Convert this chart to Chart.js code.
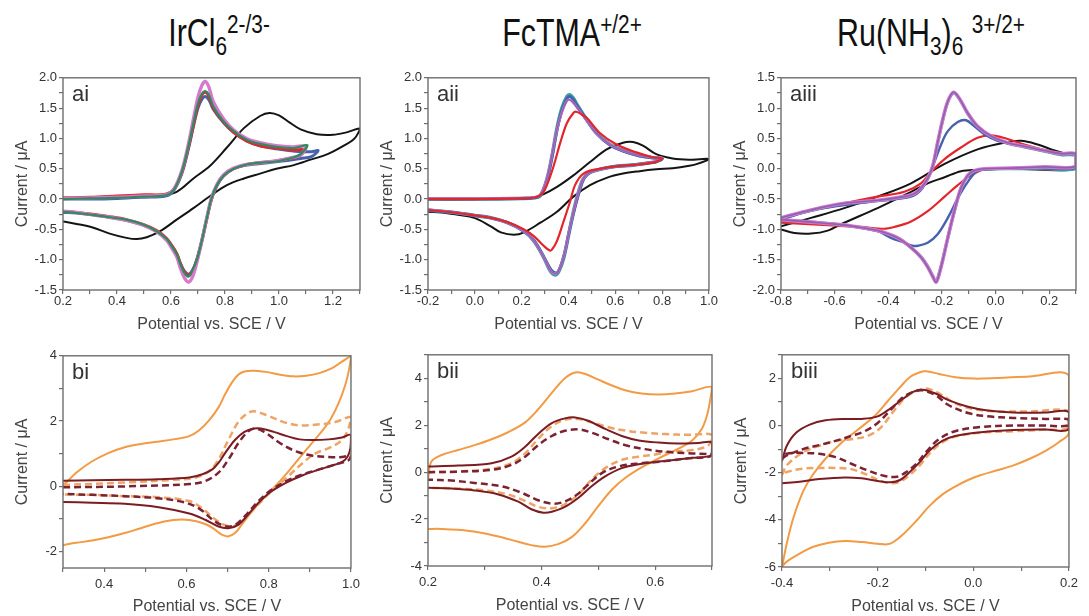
<!DOCTYPE html>
<html>
<head>
<meta charset="utf-8">
<script src="https://cdn.jsdelivr.net/npm/chart.js@4.4.0/dist/chart.umd.min.js"></script>
<style>
  html, body { margin: 0; padding: 0; background: #fff; }
  body { width: 1089px; height: 616px; position: relative; overflow: hidden; }
  canvas { position: absolute; }
  .ttl { position: absolute; top: 14px; white-space: nowrap; transform: translateX(-50%) scaleX(0.8);
         font-family: "Liberation Sans", Arial, sans-serif;
         font-size: 38px; line-height: 38px; color: #111; }
  .ttl .sb, .ttl .sp { font-size: 26px; position: relative; }
  .ttl .sb { top: 9px; }
  .ttl .sp { top: -13px; }
</style>
</head>
<body>
<div class="ttl" style="left:219px">IrCl<span class="sb">6</span><span class="sp">2-/3-</span></div>
<div class="ttl" style="left:572px">FcTMA<span class="sp">+/2+</span></div>
<div class="ttl" style="left:931px">Ru(NH<span class="sb">3</span>)<span class="sb">6</span> <span class="sp">3+/2+</span></div>
<script>
// axis ranges [min, max]
const aiX = [0.2, 1.3],  aiY = [-1.5, 2.0];
const aiiX = [-0.2, 1.0], aiiY = [-1.5, 2.0];
const aiiiX = [-0.8, 0.3], aiiiY = [-2.0, 1.5];
const biX = [0.3, 1.0],  biY = [-2.5, 4];
const biiX = [0.2, 0.7], biiY = [-4, 5];
const biiiX = [-0.4, 0.2], biiiY = [-6, 3];

// ---- ai : IrCl6 ----  [potential V, current uA]
const aiBlack = [[0.2,0.0],[0.35,0.02],[0.5,0.04],[0.56,0.06],[0.621,0.12],[0.683,0.34],[0.745,0.55],[0.807,0.85],[0.87,1.17],[0.93,1.37],[0.965,1.42],[1.0,1.38],[1.04,1.26],[1.08,1.15],[1.14,1.07],[1.2,1.06],[1.25,1.1],[1.3,1.16],
  [1.28,1.0],[1.24,0.88],[1.18,0.74],[1.117,0.65],[1.055,0.56],[0.99,0.5],[0.93,0.42],[0.87,0.34],[0.807,0.23],[0.745,0.05],[0.683,-0.15],[0.621,-0.34],[0.56,-0.53],[0.51,-0.63],[0.473,-0.66],[0.435,-0.64],[0.373,-0.57],[0.31,-0.47],[0.25,-0.41],[0.2,-0.37]];
const aiBlue = [[0.2,0.0],[0.3,0.0],[0.4,0.01],[0.5,0.03],[0.58,0.05],[0.61,0.14],[0.64,0.42],[0.665,0.84],[0.683,1.2],[0.70,1.5],[0.715,1.65],[0.727,1.69],[0.74,1.64],[0.757,1.48],[0.795,1.26],[0.832,1.1],[0.88,0.96],[0.93,0.88],[0.99,0.83],[1.06,0.79],[1.12,0.78],[1.145,0.8],
  [1.12,0.7],[1.08,0.67],[1.02,0.63],[0.96,0.6],[0.88,0.56],[0.832,0.5],[0.795,0.38],[0.77,0.22],[0.75,0.0],[0.733,-0.31],[0.714,-0.68],[0.696,-0.99],[0.68,-1.17],[0.665,-1.24],[0.65,-1.19],[0.635,-1.06],[0.621,-0.9],[0.6,-0.75],[0.584,-0.66],[0.547,-0.53],[0.497,-0.43],[0.435,-0.35],[0.373,-0.3],[0.31,-0.26],[0.25,-0.23],[0.2,-0.22]];
const aiRed = [[0.2,0.02],[0.3,0.03],[0.4,0.05],[0.5,0.07],[0.58,0.08],[0.61,0.16],[0.64,0.44],[0.665,0.86],[0.683,1.22],[0.70,1.55],[0.715,1.72],[0.727,1.76],[0.74,1.7],[0.757,1.5],[0.795,1.27],[0.832,1.1],[0.88,0.96],[0.93,0.88],[0.99,0.84],[1.05,0.81],[1.095,0.81],
  [1.075,0.71],[1.05,0.68],[0.99,0.63],[0.93,0.6],[0.88,0.57],[0.832,0.5],[0.795,0.39],[0.77,0.23],[0.75,0.0],[0.733,-0.32],[0.714,-0.7],[0.696,-1.0],[0.68,-1.19],[0.665,-1.26],[0.65,-1.21],[0.635,-1.07],[0.621,-0.9],[0.6,-0.75],[0.584,-0.65],[0.547,-0.52],[0.497,-0.42],[0.435,-0.34],[0.373,-0.29],[0.31,-0.25],[0.25,-0.22],[0.2,-0.2]];
const aiMagenta = [[0.2,0.01],[0.3,0.02],[0.4,0.03],[0.5,0.05],[0.58,0.07],[0.61,0.16],[0.64,0.47],[0.665,0.92],[0.683,1.32],[0.70,1.68],[0.715,1.88],[0.727,1.94],[0.74,1.85],[0.757,1.6],[0.795,1.32],[0.832,1.14],[0.88,1.0],[0.93,0.93],[0.99,0.88],[1.05,0.86],[1.1,0.87],
  [1.08,0.73],[1.055,0.69],[0.99,0.63],[0.93,0.6],[0.88,0.57],[0.832,0.51],[0.795,0.4],[0.77,0.24],[0.75,0.02],[0.733,-0.3],[0.714,-0.7],[0.696,-1.04],[0.68,-1.28],[0.665,-1.37],[0.65,-1.3],[0.635,-1.14],[0.621,-0.95],[0.6,-0.79],[0.584,-0.68],[0.547,-0.54],[0.497,-0.43],[0.435,-0.35],[0.373,-0.3],[0.31,-0.26],[0.25,-0.22],[0.2,-0.2]];
const aiGreen = [[0.2,0.0],[0.3,0.01],[0.4,0.02],[0.5,0.04],[0.58,0.06],[0.61,0.15],[0.64,0.45],[0.665,0.88],[0.683,1.25],[0.70,1.58],[0.715,1.74],[0.727,1.78],[0.74,1.72],[0.757,1.52],[0.795,1.28],[0.832,1.12],[0.88,0.98],[0.93,0.91],[0.99,0.86],[1.055,0.84],[1.105,0.89],
  [1.08,0.74],[1.055,0.69],[0.99,0.62],[0.93,0.6],[0.88,0.57],[0.832,0.5],[0.795,0.39],[0.77,0.23],[0.75,0.01],[0.733,-0.31],[0.714,-0.69],[0.696,-1.0],[0.677,-1.2],[0.665,-1.28],[0.65,-1.22],[0.635,-1.08],[0.621,-0.91],[0.6,-0.76],[0.584,-0.66],[0.547,-0.53],[0.497,-0.42],[0.435,-0.34],[0.373,-0.3],[0.31,-0.26],[0.25,-0.23],[0.2,-0.21]];

// ---- aii : FcTMA ----
const aiiBlack = [[-0.2,0.0],[0.0,0.0],[0.2,0.01],[0.252,0.02],[0.294,0.08],[0.351,0.2],[0.421,0.39],[0.492,0.61],[0.563,0.82],[0.633,0.93],[0.676,0.94],[0.718,0.88],[0.775,0.74],[0.845,0.67],[0.916,0.65],[1.0,0.66],
  [0.95,0.58],[0.916,0.55],[0.845,0.51],[0.775,0.49],[0.704,0.46],[0.633,0.42],[0.563,0.35],[0.492,0.23],[0.421,0.04],[0.351,-0.21],[0.28,-0.39],[0.21,-0.55],[0.167,-0.59],[0.111,-0.55],[0.068,-0.45],[-0.002,-0.31],[-0.073,-0.26],[-0.143,-0.22],[-0.2,-0.21]];
const aiiRed = [[-0.2,0.0],[0.0,0.0],[0.2,0.01],[0.26,0.03],[0.29,0.1],[0.308,0.23],[0.337,0.55],[0.365,0.93],[0.393,1.25],[0.421,1.42],[0.433,1.44],[0.455,1.4],[0.478,1.34],[0.534,1.09],[0.605,0.9],[0.69,0.77],[0.76,0.69],[0.8,0.67],
  [0.77,0.61],[0.7,0.57],[0.633,0.55],[0.52,0.49],[0.464,0.42],[0.428,0.23],[0.407,-0.04],[0.379,-0.37],[0.351,-0.69],[0.33,-0.83],[0.32,-0.85],[0.294,-0.77],[0.252,-0.61],[0.21,-0.5],[0.139,-0.38],[0.068,-0.31],[-0.002,-0.27],[-0.073,-0.23],[-0.2,-0.18]];
const aiiTeal = [[-0.2,0.0],[0.0,0.0],[0.2,0.01],[0.252,0.02],[0.28,0.06],[0.308,0.33],[0.33,0.72],[0.351,1.17],[0.372,1.5],[0.393,1.69],[0.405,1.72],[0.42,1.67],[0.436,1.56],[0.478,1.31],[0.52,1.09],[0.577,0.9],[0.633,0.8],[0.704,0.72],[0.76,0.68],[0.8,0.67],
  [0.77,0.61],[0.746,0.6],[0.676,0.56],[0.605,0.54],[0.534,0.49],[0.492,0.44],[0.464,0.34],[0.443,0.12],[0.421,-0.21],[0.4,-0.6],[0.379,-0.98],[0.358,-1.2],[0.344,-1.25],[0.323,-1.19],[0.294,-0.96],[0.252,-0.69],[0.21,-0.53],[0.139,-0.39],[0.068,-0.31],[-0.002,-0.27],[-0.073,-0.23],[-0.2,-0.18]];
const aiiBlue = [[-0.2,0.0],[0.0,0.0],[0.2,0.01],[0.252,0.02],[0.28,0.06],[0.308,0.32],[0.33,0.7],[0.351,1.14],[0.372,1.46],[0.393,1.65],[0.405,1.69],[0.42,1.64],[0.436,1.54],[0.478,1.3],[0.52,1.08],[0.577,0.89],[0.633,0.79],[0.704,0.71],[0.76,0.68],[0.8,0.67],
  [0.77,0.61],[0.746,0.6],[0.676,0.56],[0.605,0.54],[0.534,0.49],[0.492,0.44],[0.466,0.34],[0.446,0.12],[0.425,-0.18],[0.404,-0.52],[0.383,-0.9],[0.362,-1.15],[0.347,-1.22],[0.326,-1.17],[0.294,-0.95],[0.252,-0.68],[0.21,-0.53],[0.139,-0.39],[0.068,-0.31],[-0.002,-0.27],[-0.073,-0.23],[-0.2,-0.18]];
const aiiPurple = [[-0.2,0.01],[0.0,0.01],[0.2,0.02],[0.252,0.03],[0.28,0.07],[0.306,0.32],[0.328,0.7],[0.349,1.12],[0.372,1.43],[0.39,1.6],[0.402,1.64],[0.418,1.6],[0.436,1.51],[0.478,1.29],[0.52,1.08],[0.577,0.9],[0.633,0.8],[0.704,0.72],[0.76,0.69],[0.8,0.68],
  [0.77,0.62],[0.746,0.6],[0.676,0.56],[0.605,0.54],[0.534,0.49],[0.492,0.44],[0.464,0.34],[0.443,0.12],[0.421,-0.21],[0.4,-0.58],[0.379,-0.96],[0.358,-1.18],[0.344,-1.23],[0.323,-1.18],[0.294,-0.96],[0.252,-0.69],[0.21,-0.53],[0.139,-0.39],[0.068,-0.31],[-0.002,-0.27],[-0.073,-0.23],[-0.2,-0.17]];

// ---- aiii : Ru(NH3)6 ----
const aiiiBlack = [[-0.8,-0.95],[-0.688,-0.81],[-0.564,-0.65],[-0.44,-0.46],[-0.315,-0.24],[-0.19,0.08],[-0.067,0.32],[0.033,0.43],[0.095,0.46],[0.157,0.4],[0.22,0.3],[0.27,0.24],[0.3,0.23],
  [0.3,0.0],[0.058,0.0],[-0.067,-0.02],[-0.129,-0.04],[-0.19,-0.14],[-0.253,-0.24],[-0.315,-0.38],[-0.44,-0.65],[-0.564,-0.89],[-0.626,-1.02],[-0.688,-1.07],[-0.75,-1.06],[-0.8,-1.0]];
const aiiiRed = [[-0.8,-0.81],[-0.688,-0.68],[-0.564,-0.57],[-0.44,-0.46],[-0.34,-0.38],[-0.278,-0.24],[-0.24,-0.05],[-0.19,0.16],[-0.129,0.35],[-0.067,0.51],[-0.017,0.55],[0.045,0.49],[0.107,0.4],[0.182,0.31],[0.244,0.25],[0.3,0.23],
  [0.3,0.02],[0.1,0.0],[-0.042,-0.01],[-0.092,-0.11],[-0.141,-0.27],[-0.19,-0.46],[-0.253,-0.7],[-0.315,-0.87],[-0.377,-0.96],[-0.415,-0.99],[-0.502,-0.96],[-0.626,-0.93],[-0.8,-0.89]];
const aiiiTeal = [[-0.8,-0.82],[-0.688,-0.69],[-0.564,-0.58],[-0.44,-0.53],[-0.34,-0.47],[-0.303,-0.42],[-0.278,-0.33],[-0.253,-0.17],[-0.234,0.04],[-0.216,0.42],[-0.197,0.8],[-0.178,1.1],[-0.157,1.25],[-0.135,1.15],[-0.104,0.91],[-0.067,0.69],[-0.017,0.53],[0.045,0.42],[0.107,0.36],[0.182,0.29],[0.244,0.23],[0.3,0.21],
  [0.3,0.0],[0.182,0.0],[0.058,0.0],[-0.042,-0.01],[-0.079,-0.04],[-0.104,-0.12],[-0.129,-0.33],[-0.154,-0.71],[-0.178,-1.14],[-0.197,-1.5],[-0.213,-1.77],[-0.222,-1.86],[-0.234,-1.77],[-0.253,-1.61],[-0.278,-1.45],[-0.315,-1.3],[-0.365,-1.14],[-0.44,-1.02],[-0.502,-0.97],[-0.564,-0.93],[-0.688,-0.88],[-0.8,-0.85]];
const aiiiBlue = [[-0.8,-0.84],[-0.688,-0.69],[-0.564,-0.6],[-0.44,-0.53],[-0.315,-0.46],[-0.278,-0.35],[-0.253,-0.16],[-0.228,0.11],[-0.203,0.4],[-0.178,0.62],[-0.141,0.77],[-0.11,0.8],[-0.079,0.7],[-0.042,0.57],[0.008,0.46],[0.07,0.4],[0.15,0.33],[0.244,0.25],[0.3,0.23],
  [0.3,0.02],[0.15,0.01],[0.0,0.0],[-0.067,-0.04],[-0.104,-0.22],[-0.141,-0.49],[-0.178,-0.81],[-0.216,-1.08],[-0.253,-1.22],[-0.29,-1.27],[-0.31,-1.27],[-0.34,-1.22],[-0.39,-1.14],[-0.44,-1.03],[-0.564,-0.93],[-0.688,-0.88],[-0.8,-0.85]];
const aiiiMagenta = [[-0.8,-0.81],[-0.688,-0.68],[-0.564,-0.57],[-0.44,-0.52],[-0.34,-0.46],[-0.303,-0.41],[-0.278,-0.32],[-0.253,-0.16],[-0.234,0.05],[-0.216,0.43],[-0.197,0.81],[-0.178,1.11],[-0.157,1.26],[-0.135,1.16],[-0.104,0.92],[-0.067,0.7],[-0.017,0.54],[0.045,0.43],[0.107,0.37],[0.182,0.3],[0.244,0.25],[0.3,0.24],
  [0.3,0.04],[0.182,0.03],[0.058,0.01],[-0.042,0.0],[-0.079,-0.03],[-0.104,-0.11],[-0.129,-0.32],[-0.154,-0.7],[-0.178,-1.14],[-0.197,-1.51],[-0.213,-1.78],[-0.222,-1.87],[-0.234,-1.78],[-0.253,-1.62],[-0.278,-1.46],[-0.315,-1.3],[-0.365,-1.14],[-0.44,-1.02],[-0.502,-0.97],[-0.564,-0.93],[-0.688,-0.88],[-0.8,-0.84]];

// ---- bi ----
const biOrange = [[0.3,0.07],[0.308,0.12],[0.332,0.42],[0.371,0.77],[0.41,1.02],[0.45,1.2],[0.489,1.3],[0.529,1.37],[0.568,1.44],[0.607,1.54],[0.631,1.72],[0.655,2.02],[0.678,2.42],[0.694,2.82],[0.71,3.17],[0.726,3.42],[0.741,3.52],[0.765,3.54],[0.797,3.5],[0.828,3.42],[0.86,3.37],[0.891,3.39],[0.923,3.47],[0.954,3.62],[0.978,3.82],[1.0,3.97],
  [0.994,3.5],[0.986,3.1],[0.97,2.55],[0.95,2.05],[0.93,1.7],[0.91,1.4],[0.89,1.1],[0.87,0.8],[0.844,0.4],[0.812,-0.05],[0.781,-0.45],[0.757,-0.8],[0.734,-1.18],[0.718,-1.43],[0.702,-1.53],[0.686,-1.48],[0.67,-1.33],[0.647,-1.16],[0.607,-1.03],[0.568,-1.03],[0.529,-1.13],[0.489,-1.28],[0.45,-1.43],[0.41,-1.56],[0.371,-1.66],[0.332,-1.73],[0.3,-1.8]];
const biOrangeDash = [[0.3,0.04],[0.45,0.12],[0.568,0.2],[0.623,0.27],[0.655,0.47],[0.678,0.82],[0.702,1.42],[0.726,1.97],[0.749,2.24],[0.765,2.3],[0.797,2.17],[0.836,1.97],[0.875,1.87],[0.923,1.9],[0.962,1.97],[1.0,2.12],
  [0.994,1.77],[0.978,1.42],[0.946,1.17],[0.915,1.02],[0.883,0.72],[0.844,0.27],[0.804,-0.18],[0.765,-0.68],[0.734,-1.08],[0.71,-1.23],[0.678,-1.08],[0.639,-0.68],[0.607,-0.45],[0.529,-0.33],[0.45,-0.3],[0.371,-0.26],[0.3,-0.25]];
const biDark = [[0.3,0.17],[0.371,0.19],[0.45,0.2],[0.529,0.22],[0.607,0.27],[0.639,0.37],[0.663,0.52],[0.678,0.72],[0.694,1.02],[0.718,1.42],[0.741,1.67],[0.765,1.77],[0.781,1.77],[0.812,1.67],[0.844,1.54],[0.875,1.44],[0.907,1.42],[0.946,1.44],[0.978,1.5],[1.0,1.57],
  [0.998,1.12],[0.986,0.82],[0.962,0.67],[0.923,0.52],[0.883,0.34],[0.844,0.12],[0.804,-0.18],[0.773,-0.53],[0.749,-0.88],[0.726,-1.18],[0.702,-1.28],[0.678,-1.23],[0.647,-1.03],[0.607,-0.83],[0.529,-0.63],[0.45,-0.53],[0.371,-0.5],[0.3,-0.48]];
const biDarkDash = [[0.3,-0.03],[0.45,0.0],[0.607,0.07],[0.647,0.17],[0.678,0.42],[0.702,0.82],[0.726,1.32],[0.749,1.67],[0.765,1.77],[0.789,1.67],[0.828,1.32],[0.867,1.07],[0.907,0.94],[0.946,0.9],[0.978,0.9],[1.0,0.94],
  [0.994,0.8],[0.962,0.67],[0.923,0.52],[0.883,0.37],[0.844,0.17],[0.804,-0.13],[0.773,-0.48],[0.741,-0.93],[0.718,-1.18],[0.698,-1.23],[0.67,-1.08],[0.631,-0.68],[0.592,-0.48],[0.529,-0.36],[0.45,-0.3],[0.371,-0.26],[0.3,-0.23]];

// ---- bii ----
const biiOrange = [[0.2,-0.3],[0.206,0.45],[0.224,0.73],[0.253,0.94],[0.282,1.15],[0.312,1.4],[0.341,1.7],[0.371,2.12],[0.394,2.68],[0.418,3.38],[0.441,4.0],[0.459,4.25],[0.476,4.19],[0.5,3.94],[0.524,3.69],[0.547,3.49],[0.576,3.35],[0.606,3.31],[0.635,3.35],[0.665,3.45],[0.7,3.63],
  [0.697,3.1],[0.691,2.4],[0.682,1.84],[0.665,1.35],[0.641,1.0],[0.606,0.59],[0.576,0.2],[0.547,-0.25],[0.524,-0.74],[0.5,-1.44],[0.476,-2.2],[0.453,-2.77],[0.429,-3.07],[0.406,-3.18],[0.382,-3.11],[0.359,-2.97],[0.324,-2.74],[0.288,-2.56],[0.253,-2.46],[0.224,-2.42],[0.2,-2.42]];
const biiOrangeDash = [[0.2,0.0],[0.253,0.03],[0.312,0.14],[0.347,0.38],[0.371,0.8],[0.394,1.42],[0.418,1.96],[0.441,2.23],[0.465,2.26],[0.488,2.12],[0.518,1.91],[0.547,1.77],[0.582,1.68],[0.618,1.62],[0.659,1.59],[0.7,1.59],
  [0.694,1.15],[0.665,0.94],[0.629,0.87],[0.6,0.75],[0.571,0.66],[0.541,0.52],[0.512,0.17],[0.488,-0.32],[0.465,-0.95],[0.441,-1.37],[0.418,-1.54],[0.394,-1.48],[0.371,-1.23],[0.341,-0.95],[0.3,-0.78],[0.253,-0.7],[0.2,-0.67]];
const biiDark = [[0.2,0.24],[0.253,0.28],[0.312,0.38],[0.347,0.66],[0.371,1.08],[0.394,1.63],[0.418,2.09],[0.441,2.29],[0.459,2.33],[0.482,2.19],[0.512,1.84],[0.541,1.54],[0.571,1.35],[0.606,1.26],[0.641,1.22],[0.676,1.24],[0.7,1.26],
  [0.699,0.73],[0.665,0.61],[0.606,0.45],[0.571,0.34],[0.541,0.17],[0.512,-0.18],[0.488,-0.6],[0.465,-1.09],[0.441,-1.48],[0.418,-1.69],[0.403,-1.73],[0.382,-1.58],[0.359,-1.26],[0.324,-0.95],[0.282,-0.78],[0.241,-0.7],[0.2,-0.67]];
const biiDarkDash = [[0.2,0.0],[0.253,0.02],[0.312,0.1],[0.347,0.31],[0.371,0.66],[0.394,1.15],[0.418,1.54],[0.441,1.76],[0.465,1.82],[0.488,1.68],[0.518,1.4],[0.547,1.15],[0.582,0.98],[0.618,0.87],[0.659,0.8],[0.7,0.75],
  [0.694,0.65],[0.659,0.59],[0.618,0.47],[0.576,0.38],[0.535,0.24],[0.506,-0.04],[0.482,-0.53],[0.459,-1.02],[0.435,-1.3],[0.418,-1.34],[0.394,-1.2],[0.365,-0.88],[0.329,-0.6],[0.282,-0.46],[0.241,-0.36],[0.2,-0.32]];

// ---- biii ----
const biiiOrange = [[-0.4,-6.0],[-0.39,-5.0],[-0.376,-3.9],[-0.356,-2.8],[-0.336,-2.1],[-0.309,-1.41],[-0.275,-0.72],[-0.241,-0.17],[-0.207,0.39],[-0.18,1.01],[-0.153,1.63],[-0.133,2.05],[-0.112,2.26],[-0.099,2.3],[-0.072,2.19],[-0.038,2.05],[0.003,1.99],[0.05,2.02],[0.118,2.08],[0.2,2.12],
  [0.2,-0.3],[0.178,-0.72],[0.151,-1.07],[0.118,-1.41],[0.084,-1.69],[0.05,-1.9],[0.016,-2.1],[-0.011,-2.31],[-0.038,-2.59],[-0.065,-2.93],[-0.092,-3.42],[-0.119,-4.04],[-0.146,-4.6],[-0.167,-4.94],[-0.18,-5.04],[-0.2,-5.01],[-0.234,-4.94],[-0.268,-4.9],[-0.302,-4.97],[-0.336,-5.15],[-0.363,-5.43],[-0.39,-5.77],[-0.4,-5.98]];
const biiiOrangeDash = [[-0.4,-2.1],[-0.39,-1.69],[-0.356,-1.13],[-0.322,-0.86],[-0.288,-0.65],[-0.255,-0.58],[-0.221,-0.44],[-0.194,-0.1],[-0.167,0.6],[-0.14,1.22],[-0.112,1.52],[-0.095,1.56],[-0.065,1.29],[-0.038,0.94],[0.003,0.69],[0.05,0.6],[0.118,0.6],[0.2,0.6],
  [0.198,-0.1],[0.151,-0.17],[0.084,-0.24],[0.016,-0.3],[-0.038,-0.47],[-0.065,-0.72],[-0.092,-1.2],[-0.112,-1.69],[-0.133,-2.1],[-0.153,-2.38],[-0.17,-2.45],[-0.194,-2.35],[-0.221,-2.1],[-0.255,-1.85],[-0.288,-1.8],[-0.322,-1.8],[-0.356,-1.83],[-0.39,-1.97],[-0.4,-2.1]];
const biiiDark = [[-0.4,-1.5],[-0.39,-0.86],[-0.37,-0.3],[-0.342,0.04],[-0.309,0.22],[-0.268,0.28],[-0.234,0.28],[-0.2,0.39],[-0.173,0.73],[-0.146,1.15],[-0.126,1.43],[-0.106,1.52],[-0.079,1.36],[-0.052,1.08],[-0.011,0.8],[0.03,0.64],[0.084,0.55],[0.151,0.55],[0.2,0.57],
  [0.199,-0.17],[0.151,-0.17],[0.084,-0.19],[0.016,-0.28],[-0.038,-0.44],[-0.065,-0.65],[-0.092,-1.07],[-0.112,-1.55],[-0.133,-1.97],[-0.153,-2.31],[-0.173,-2.41],[-0.2,-2.35],[-0.234,-2.24],[-0.268,-2.2],[-0.322,-2.27],[-0.363,-2.38],[-0.4,-2.45]];
const biiiDarkDash = [[-0.4,-1.41],[-0.39,-1.27],[-0.356,-1.0],[-0.322,-0.83],[-0.288,-0.65],[-0.255,-0.44],[-0.227,-0.24],[-0.2,0.11],[-0.173,0.66],[-0.146,1.22],[-0.119,1.47],[-0.106,1.49],[-0.079,1.29],[-0.052,0.87],[-0.011,0.53],[0.03,0.39],[0.084,0.32],[0.151,0.28],[0.2,0.25],
  [0.198,0.0],[0.151,0.0],[0.084,0.0],[0.016,-0.06],[-0.038,-0.24],[-0.072,-0.58],[-0.099,-1.13],[-0.119,-1.62],[-0.14,-1.97],[-0.16,-2.17],[-0.187,-2.13],[-0.221,-1.9],[-0.255,-1.62],[-0.288,-1.34],[-0.322,-1.2],[-0.356,-1.16],[-0.39,-1.2],[-0.4,-1.41]];

const BLACK = '#141414', RED = '#e3262b', BLUE = '#4762ad', GREEN = '#2f8b5c',
      PINK = '#d679cd', PURPLE = '#8d60b2', TEAL = '#3f9ea0',
      ORANGE = '#f29a44', ORANGE_D = '#eea466', DARK = '#7a1c22', DARK_D = '#7c2232';

// lines are listed bottom to top
const panels = [
  { tag: 'ai', box: [63, 74, 360, 290], xr: aiX, yr: aiY, xs: 0.1, ys: 0.25, xe: 0.2, ye: 0.5, yd: 1, xh: 44, pad: 0,
    lines: [[aiBlack, BLACK, 2], [aiBlue, BLUE, 3], [aiRed, RED, 3], [aiMagenta, PINK, 3.4], [aiGreen, GREEN, 2.2]] },
  { tag: 'aii', box: [428, 74, 712, 290], xr: aiiX, yr: aiiY, xs: 0.1, ys: 0.25, xe: 0.2, ye: 0.5, yd: 1, xh: 44, pad: 0,
    lines: [[aiiBlack, BLACK, 2], [aiiTeal, TEAL, 3.6], [aiiBlue, BLUE, 3], [aiiPurple, PINK, 2.4], [aiiPurple, PURPLE, 1.4], [aiiRed, RED, 2.2]] },
  { tag: 'aiii', box: [781, 74, 1076, 290], xr: aiiiX, yr: aiiiY, xs: 0.1, ys: 0.25, xe: 0.2, ye: 0.5, yd: 1, xh: 44, pad: 0,
    lines: [[aiiiBlack, BLACK, 2], [aiiiRed, RED, 2.2], [aiiiTeal, TEAL, 3], [aiiiBlue, BLUE, 2.4], [aiiiMagenta, PINK, 3.6], [aiiiMagenta, PURPLE, 1.6]] },
  { tag: 'bi', box: [63, 352, 359, 568], xr: biX, yr: biY, xs: 0.1, ys: 1, xe: 0.2, ye: 2, yd: 0, xh: 48, pad: 5,
    lines: [[biOrange, ORANGE, 2], [biOrangeDash, ORANGE_D, 2.5, true], [biDark, DARK, 2], [biDarkDash, DARK_D, 2.5, true]] },
  { tag: 'bii', box: [428, 351, 712, 566], xr: biiX, yr: biiY, xs: 0.1, ys: 1, xe: 0.2, ye: 2, yd: 0, xh: 49, pad: 5,
    lines: [[biiOrange, ORANGE, 2], [biiOrangeDash, ORANGE_D, 2.5, true], [biiDark, DARK, 2], [biiDarkDash, DARK_D, 2.5, true]] },
  { tag: 'biii', box: [782, 351, 1077, 567], xr: biiiX, yr: biiiY, xs: 0.1, ys: 1, xe: 0.2, ye: 2, yd: 0, xh: 49, pad: 5,
    lines: [[biiiOrange, ORANGE, 2], [biiiOrangeDash, ORANGE_D, 2.5, true], [biiiDark, DARK, 2], [biiiDarkDash, DARK_D, 2.5, true]] }
];

Chart.defaults.font.family = '"Liberation Sans", Arial, sans-serif';

// box around the plot and the panel tag
const frame = {
  id: 'frame',
  afterDatasetsDraw(chart, args, opts) {
    const { ctx, chartArea: a } = chart;
    ctx.save();
    ctx.strokeStyle = '#6e6e6e';
    ctx.lineWidth = 1.4;
    ctx.strokeRect(a.left, a.top, a.right - a.left, a.bottom - a.top);
    ctx.fillStyle = '#333';
    ctx.font = '22px "Liberation Sans", Arial, sans-serif';
    ctx.fillText(opts.tag, a.left + 9, a.top + 23);
    ctx.restore();
  }
};

function every(step, dec) {
  return v => {
    const r = v / step;
    if (Math.abs(r - Math.round(r)) > 1e-6) return '';
    return (Math.abs(v) < 1e-9 ? 0 : v).toFixed(dec);
  };
}

const yW = 50, topPad = 6;
panels.forEach(p => {
  const [L, T, R, B] = p.box;
  const cv = document.createElement('canvas');
  const w = R - L + yW + topPad, h = B - T + topPad + p.xh;
  cv.width = w; cv.height = h;
  cv.style.width = w + 'px'; cv.style.height = h + 'px';
  cv.style.left = (L - yW) + 'px'; cv.style.top = (T - topPad) + 'px';
  document.body.appendChild(cv);

  // chart.js paints the first dataset last, so flip the list
  const datasets = p.lines.map(([pts, color, width, dashed]) => ({
    data: pts.map(([x, y]) => ({ x, y })),
    showLine: true,
    borderColor: color,
    borderWidth: width,
    borderDash: dashed ? [7, 4] : [],
    pointRadius: 0,
    tension: 0.35,
    borderJoinStyle: 'round'
  })).reverse();

  const tickGrid = { display: true, drawOnChartArea: false, drawTicks: true, tickLength: 4, color: '#6e6e6e', lineWidth: 1.2 };

  new Chart(cv, {
    type: 'scatter',
    data: { datasets },
    options: {
      responsive: false,
      animation: false,
      events: [],
      layout: { padding: { top: topPad, right: topPad, left: 0, bottom: 0 } },
      plugins: { legend: { display: false }, tooltip: { enabled: false }, frame: { tag: p.tag } },
      scales: {
        x: {
          type: 'linear', min: p.xr[0], max: p.xr[1],
          grid: tickGrid, border: { display: false },
          ticks: { stepSize: p.xs, autoSkip: false, maxRotation: 0, includeBounds: false, padding: p.pad,
                   color: '#333', font: { size: 13 }, callback: every(p.xe, 1) },
          title: { display: true, text: 'Potential vs. SCE / V', color: '#444', padding: 0, font: { size: 16, lineHeight: 1.2 } },
          afterFit: s => { s.height = p.xh; }
        },
        y: {
          type: 'linear', min: p.yr[0], max: p.yr[1],
          grid: tickGrid, border: { display: false },
          ticks: { stepSize: p.ys, autoSkip: false, includeBounds: false, padding: 2,
                   color: '#333', font: { size: 13 }, callback: every(p.ye, p.yd) },
          title: { display: true, text: 'Current / μA', color: '#444', padding: 0, font: { size: 16, lineHeight: 1.2 } },
          afterFit: s => { s.width = yW; }
        }
      }
    },
    plugins: [frame]
  });
});
</script>
</body>
</html>
